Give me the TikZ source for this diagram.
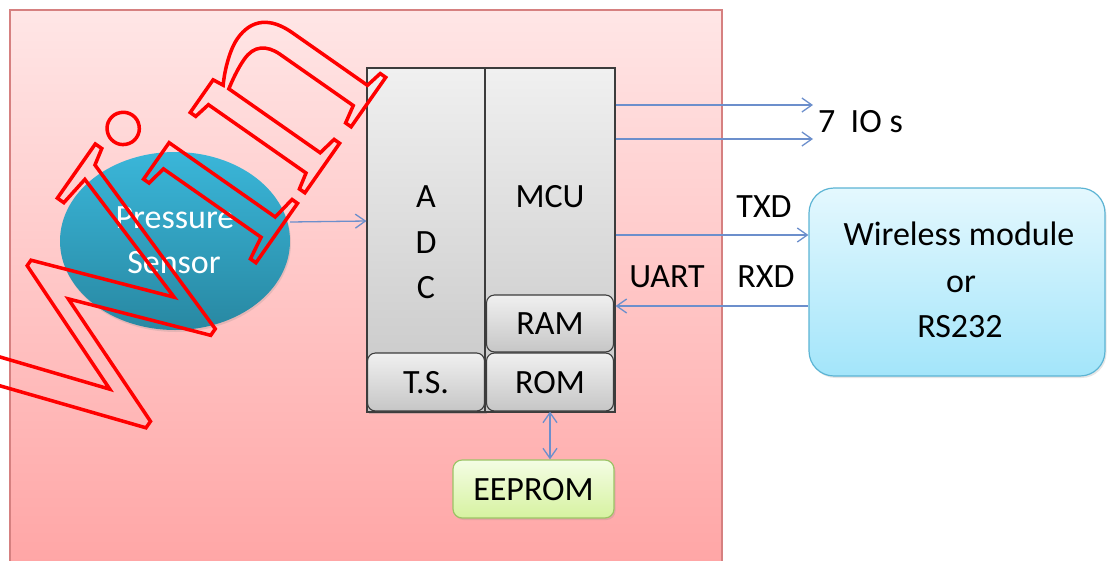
\documentclass[tikz,border=0pt]{standalone}
\usepackage{fontspec}
\setmainfont{Carlito}
\newfontfamily\wmfont{Liberation Serif}
\usetikzlibrary{arrows.meta,shadows,shapes.geometric}
\definecolor{arrowblue}{RGB}{108,143,204}
\definecolor{pinkT}{RGB}{255,230,230}
\definecolor{pinkB}{RGB}{255,164,164}
\definecolor{pinkE}{RGB}{214,128,128}
\definecolor{grayT}{RGB}{240,240,240}
\definecolor{grayB}{RGB}{198,198,198}
\definecolor{chipE}{RGB}{60,60,60}
\definecolor{wlT}{RGB}{228,248,254}
\definecolor{wlB}{RGB}{163,229,250}
\definecolor{wlE}{RGB}{92,180,212}
\definecolor{eeT}{RGB}{244,253,228}
\definecolor{eeB}{RGB}{214,242,160}
\definecolor{eeE}{RGB}{156,196,102}
\definecolor{senT}{RGB}{58,182,217}
\definecolor{senB}{RGB}{40,136,162}
\tikzset{
  lbl/.style={inner sep=0pt, anchor=base, font=\fontsize{34}{45}\selectfont},
  chip/.style={draw=chipE, line width=1.1pt, top color=grayT, bottom color=grayB, inner sep=0pt},
  chipshadow/.style={drop shadow={opacity=0.35, shadow xshift=1.5pt, shadow yshift=-2pt}},
  conn/.style={draw=arrowblue, line width=1.3pt, -{Straight Barb[length=10pt,width=14pt,line width=1.3pt]}},
  dconn/.style={draw=arrowblue, line width=1.3pt, {Straight Barb[length=10pt,width=14pt,line width=1.3pt]}-{Straight Barb[length=10pt,width=14pt,line width=1.3pt]}}
}
\begin{document}
\begin{tikzpicture}[x=1pt,y=-1pt]
\useasboundingbox (0,0) rectangle (1107,560);
% board
\path[draw=pinkE, line width=1.2pt, top color=pinkT, bottom color=pinkB] (10,10) rectangle (722,580);

% sensor
\node[ellipse, minimum width=230pt, minimum height=178pt, inner sep=0pt,
      top color=senT, bottom color=senB,
      drop shadow={opacity=0.2, shadow xshift=1pt, shadow yshift=-2pt}] (sensor) at (175,241) {};
\node[lbl, text=white] (pressure) at (175,228) {Pressure};
\node[lbl, text=white] (sensortxt) at (174,273) {Sensor};

% chip blocks
\node[chip, chipshadow, minimum width=118pt, minimum height=344pt] (adc) at (426,240) {};
\node[chip, minimum width=130pt, minimum height=344pt] (mcu) at (550,240) {};
\node[chip, rounded corners=8pt, minimum width=117pt, minimum height=58pt] (ts) at (426,382) {};
\node[chip, rounded corners=8pt, minimum width=127pt, minimum height=57pt] (ram) at (550,323.5) {};
\node[chip, rounded corners=8pt, minimum width=127pt, minimum height=58pt] (rom) at (550,382) {};

\node[lbl] (la) at (426,207) {A};
\node[lbl] (ld) at (426,253) {D};
\node[lbl] (lc) at (426,298) {C};
\node[lbl] (mcut) at (550,207) {MCU};
\node[lbl] (ramt) at (550,334) {RAM};
\node[lbl] (romt) at (550,393) {ROM};
\node[lbl] (tst) at (426,393) {T.S.};

% wireless module
\node[draw=wlE, line width=1.2pt, rounded corners=25pt, top color=wlT, bottom color=wlB,
      minimum width=296pt, minimum height=188pt, inner sep=0pt,
      drop shadow={opacity=0.2, shadow xshift=1.5pt, shadow yshift=-2pt}] (wl) at (957,282) {};
\node[lbl] (wl1) at (959,245) {Wireless module};
\node[lbl] (wl2) at (961,292) {or};
\node[lbl] (wl3) at (960,337) {RS232};

% EEPROM
\node[draw=eeE, line width=1.2pt, rounded corners=9pt, top color=eeT, bottom color=eeB,
      minimum width=161pt, minimum height=58pt, inner sep=0pt,
      drop shadow={opacity=0.2, shadow xshift=1.5pt, shadow yshift=-2pt}] (ee) at (533.5,489) {};
\node[lbl] (eet) at (533.5,500) {EEPROM};

% IO outputs
\coordinate (io1) at (813,105);
\coordinate (io2) at (813,139);
\node[lbl, anchor=base west] (ios) at (818,132) {7\hspace{0.45em}IO s};

% labels
\node[lbl] (txd) at (764,217) {TXD};
\node[lbl] (rxd) at (766,287) {RXD};
\node[lbl] (uart) at (667,287) {UART};

% connectors
\draw[conn] ([yshift=19pt]sensor.east) -- ([yshift=19pt]adc.west);
\draw[conn] ([yshift=135pt]mcu.east) -- (io1);
\draw[conn] ([yshift=101pt]mcu.east) -- (io2);
\draw[conn] ([yshift=5pt]mcu.east) -- ([yshift=47pt]wl.west);
\draw[conn] ([yshift=-24pt]wl.west) -- ([yshift=-66pt]mcu.east);
\draw[dconn] (rom.south) -- (rom.south |- ee.north);

% watermark
\node[rotate=55, anchor=base west, inner sep=0pt, text=red,
      font=\wmfont\fontsize{305}{320}\selectfont] (wm) at (94,494)
  {\special{pdf:literal direct 1 Tr 3.5 w}Win\special{pdf:literal direct 0 Tr}};
\end{tikzpicture}
\end{document}
